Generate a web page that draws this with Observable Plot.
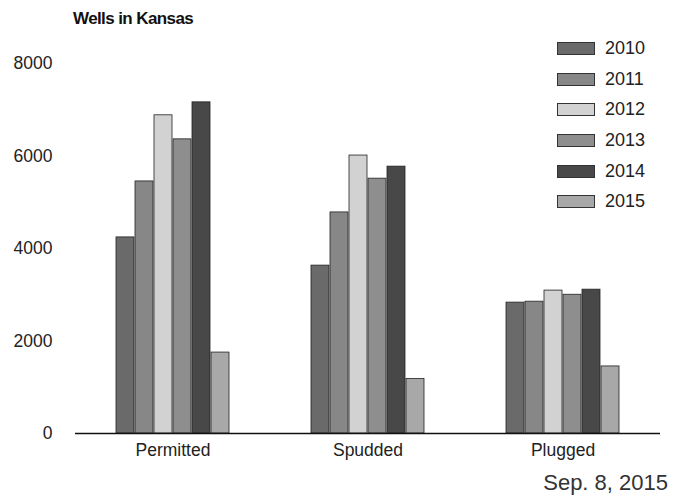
<!DOCTYPE html>
<html><head><meta charset="utf-8">
<script src="https://cdn.jsdelivr.net/npm/d3@7"></script>
<script src="https://cdn.jsdelivr.net/npm/@observablehq/plot@0.6"></script>
<style>
body{margin:0;background:#fff;font-family:"Liberation Sans",Arial,sans-serif;}
#wrap{position:relative;width:678px;height:498px;overflow:hidden;}
#title{position:absolute;left:73px;top:9px;font-weight:bold;font-size:17px;letter-spacing:-0.6px;color:#111;white-space:nowrap;}
#date{position:absolute;right:10px;top:470px;font-size:22px;color:#333;white-space:nowrap;}
#legend{position:absolute;left:557px;top:33px;}
.row{display:flex;align-items:center;height:30.7px;}
.sw{width:36px;height:11px;border:1px solid #333;margin-right:10px;}
.lab{font-size:18px;color:#222;}
#chart{position:absolute;left:0;top:0;}
</style></head>
<body>
<div id="wrap">
  <div id="chart"></div>
  <div id="title">Wells in Kansas</div>
  <div id="legend"></div>
  <div id="date">Sep. 8, 2015</div>
</div>
<script>
const categories = ["Permitted", "Spudded", "Plugged"];
const years = ["2010", "2011", "2012", "2013", "2014", "2015"];
const permitted = [4240, 5450, 6880, 6360, 7160, 1750];
const spudded = [3630, 4780, 6010, 5510, 5770, 1180];
const plugged = [2830, 2850, 3090, 3000, 3110, 1450];
const yTicks = [0, 2000, 4000, 6000, 8000];

const grays = ["#6a6a6a", "#878787", "#d2d2d2", "#8e8e8e", "#484848", "#a8a8a8"];

const seriesByCategory = {Permitted: permitted, Spudded: spudded, Plugged: plugged};
const rows = [];
for (const c of categories) {
  seriesByCategory[c].forEach((v, i) => rows.push({category: c, year: years[i], value: v}));
}

const chart = Plot.plot({
  width: 678,
  height: 498,
  marginTop: 63,
  marginBottom: 65,
  marginLeft: 75,
  marginRight: 18,
  style: {fontFamily: "Liberation Sans, Arial, sans-serif", fontSize: "17.5px", color: "#222", background: "transparent"},
  fx: {domain: categories, padding: 0, label: null, axis: "bottom", tickSize: 0, tickPadding: 10},
  x: {domain: years, paddingInner: 0.07, paddingOuter: 2.05, axis: null},
  y: {domain: [0, 8000], ticks: yTicks, tickSize: 0, tickPadding: 23, label: null, tickFormat: d => String(d)},
  color: {domain: years, range: grays},
  marks: [
    Plot.barY(rows, {fx: "category", x: "year", y: "value", fill: "year", stroke: "#222", strokeWidth: 0.8}),
    Plot.ruleY([0], {stroke: "#111", strokeWidth: 1.5})
  ]
});
document.getElementById("chart").appendChild(chart);

const color = chart.scale("color");
const legend = document.getElementById("legend");
for (const y of years) {
  const row = document.createElement("div");
  row.className = "row";
  const sw = document.createElement("div");
  sw.className = "sw";
  sw.style.background = color.apply(y);
  const lab = document.createElement("span");
  lab.className = "lab";
  lab.textContent = y;
  row.appendChild(sw);
  row.appendChild(lab);
  legend.appendChild(row);
}
</script>
</body></html>
